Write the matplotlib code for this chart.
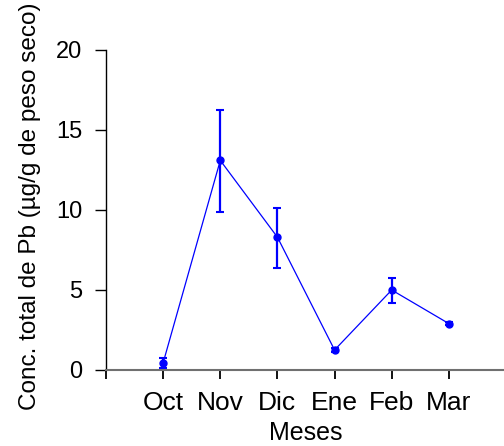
import numpy as np
import matplotlib
matplotlib.use('Agg')
import matplotlib.pyplot as plt

plt.rcParams['font.family'] = ['Liberation Sans', 'DejaVu Sans']

# datos: concentración total de Pb por mes
meses = ['Oct', 'Nov', 'Dic', 'Ene', 'Feb', 'Mar']
conc = [0.45, 13.1, 8.3, 1.25, 5.0, 2.9]
err_sup = [0.3, 3.15, 1.85, 0.15, 0.78, 0.1]
err_inf = [0.3, 3.25, 1.95, 0.15, 0.82, 0.1]

x = np.arange(1, len(meses) + 1)

fig = plt.figure(figsize=(5.04, 4.46), dpi=100)
ax = fig.add_axes([106 / 504, 1 - 370 / 446, 400 / 504, 320 / 446])

ax.errorbar(x, conc, yerr=[err_inf, err_sup], color='#0000ff', lw=0.9,
            marker='o', markersize=5, elinewidth=1.6, capsize=2.7, capthick=1.5)

ax.set_xlim(0, 7)
ax.set_ylim(0, 20)
ax.set_yticks([0, 5, 10, 15, 20])
ax.set_xticks(range(0, 8))
ax.set_xticklabels([''] + meses + [''])

ax.spines['top'].set_visible(False)
ax.spines['right'].set_visible(False)
ax.spines['bottom'].set_color('#707070')
ax.spines['bottom'].set_linewidth(1.5)
ax.spines['left'].set_linewidth(1.0)

ax.tick_params(axis='y', direction='out', length=8, width=1.0, labelsize=17, pad=9)
ax.tick_params(axis='x', direction='out', length=6.5, width=1.3, labelsize=19, pad=8.5)

ax.set_xlabel('Meses', fontsize=18, labelpad=4.5)
fig.text(30 / 504, 1 - 410 / 446, 'Conc. total de Pb (µg/g de peso seco)',
         rotation=90, ha='center', va='bottom', fontsize=17.5)

fig.savefig('out.png', dpi=100)
